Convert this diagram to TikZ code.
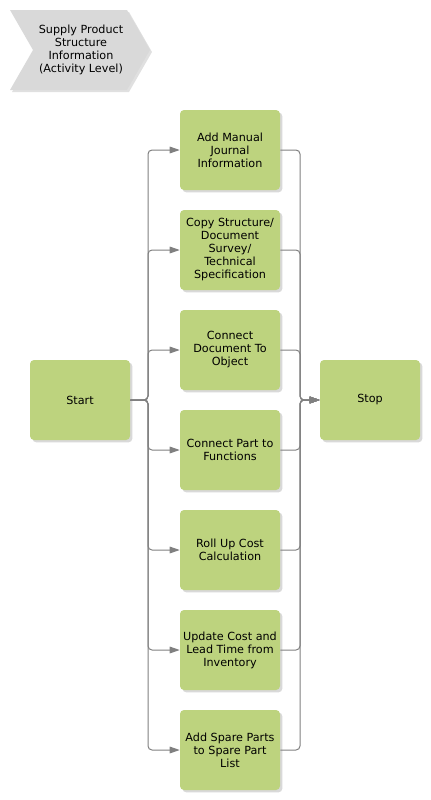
\documentclass[tikz,border=0pt]{standalone}
\usepackage{fontspec}
\setmainfont{DejaVu Sans}
\usetikzlibrary{arrows.meta,shadows}
\definecolor{actgreen}{RGB}{189,211,126}
\definecolor{evgray}{RGB}{217,217,217}
\definecolor{lngray}{RGB}{128,128,128}
\tikzset{
  act/.style={draw=none,fill=actgreen,rounded corners=3pt,minimum width=75pt,minimum height=60pt,
    inner xsep=0pt,align=center,font=\fontsize{8.4}{9.75}\selectfont,
    drop shadow={shadow xshift=1.8pt,shadow yshift=-1.8pt,fill=black!25,opacity=.6}},
  conn/.style={draw=lngray,line width=0.75pt,rounded corners=3pt,-{Triangle[length=7.5pt,width=5pt]}}
}
\begin{document}
\begin{tikzpicture}[x=0.75pt,y=-0.75pt]
      \useasboundingbox (0,0) rectangle (430,800);
      \fill[black!20,opacity=.6] (12,12) -- (129,12) -- (152,52) -- (129,92) -- (12,92) -- (35,52) -- cycle;
      \fill[evgray] (10,10) -- (127,10) -- (150,50) -- (127,90) -- (10,90) -- (33,50) -- cycle;
      \node[align=center,font=\fontsize{8.4}{9.75}\selectfont] (ev) at (81,50)
        {Supply Product\\Structure\\Information\\(Activity Level)};
      \draw
        (80,400) node[act] (start){Start}
        (230,150) node[act] (a1){Add Manual\\Journal\\Information}
        (230,250) node[act] (a2){Copy Structure/\\Document\\Survey/\\Technical\\Specification}
        (230,350) node[act] (a3){Connect\\Document To\\Object}
        (230,450) node[act] (a4){Connect Part to\\Functions}
        (230,550) node[act] (a5){Roll Up Cost\\Calculation}
        (230,650) node[act] (a6){Update Cost and\\Lead Time from\\Inventory}
        (230,750) node[act] (a7){Add Spare Parts\\to Spare Part\\List}
        (370,400) node[act] (stop){Stop};
      \coordinate (split) at (148,400);
      \coordinate (join) at (300,400);
      \begin{scope}[conn]
        \draw (start.east) -- (split) |- (a1.west);
        \draw (start.east) -- (split) |- (a2.west);
        \draw (start.east) -- (split) |- (a3.west);
        \draw (start.east) -- (split) |- (a4.west);
        \draw (start.east) -- (split) |- (a5.west);
        \draw (start.east) -- (split) |- (a6.west);
        \draw (start.east) -- (split) |- (a7.west);
        \draw (a1.east) -| (join) -- (stop.west);
        \draw (a2.east) -| (join) -- (stop.west);
        \draw (a3.east) -| (join) -- (stop.west);
        \draw (a4.east) -| (join) -- (stop.west);
        \draw (a5.east) -| (join) -- (stop.west);
        \draw (a6.east) -| (join) -- (stop.west);
        \draw (a7.east) -| (join) -- (stop.west);
      \end{scope}
    \end{tikzpicture}
\end{document}
